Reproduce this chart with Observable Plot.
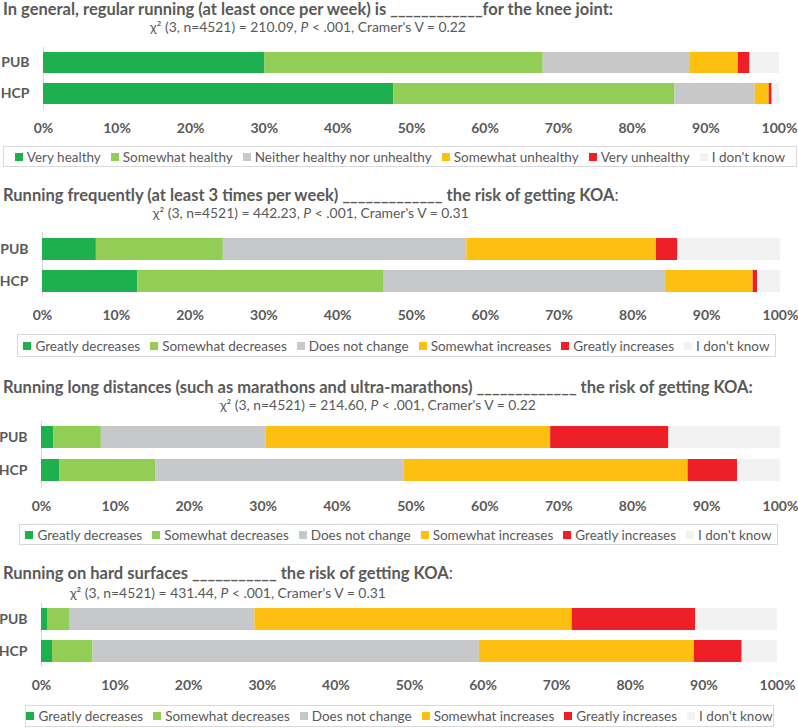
<!DOCTYPE html>
<html><head><meta charset="utf-8">
<script src="https://cdn.jsdelivr.net/npm/d3@7"></script>
<script src="https://cdn.jsdelivr.net/npm/@observablehq/plot@0.6"></script>
<style>
body{margin:0;background:#fff;font-family:Lato,sans-serif;color:#595959;width:798px;height:728px;overflow:hidden;position:relative}
.head{position:absolute;left:3px;display:inline-block}
.title{font-weight:bold;font-size:16.5px;line-height:18px;white-space:nowrap}
.title .lt{font-weight:normal}
.sub{text-align:center;font-size:13.9px;line-height:18px;white-space:nowrap}
.legend{position:absolute;box-sizing:border-box;border:1px solid #D9D9D9;display:flex;justify-content:center;align-items:center;font-size:13.5px;white-space:nowrap}
.item{display:inline-flex;align-items:center;margin:0 5px}
.sw{width:8px;height:8px;margin-right:4px;display:inline-block}
.plot{position:absolute;left:0}
</style></head><body>
<script>
// ---------- data ----------
const groups = ["PUB", "HCP"];
const healthCats = ["Very healthy", "Somewhat healthy", "Neither healthy nor unhealthy", "Somewhat unhealthy", "Very unhealthy", "I don't know"];
const riskCats = ["Greatly decreases", "Somewhat decreases", "Does not change", "Somewhat increases", "Greatly increases", "I don't know"];
const catColors = ["#1EB04E", "#92CD55", "#C7C8CA", "#FDC010", "#EE1F26", "#F2F2F2"];
const xTicks = [0, 10, 20, 30, 40, 50, 60, 70, 80, 90, 100];

const q1PUB = [30.1, 37.8, 20.0, 6.5, 1.6, 4.0];
const q1HCP = [47.6, 38.2, 10.9, 1.9, 0.4, 1.0];
const q2PUB = [7.3, 17.2, 33.0, 25.7, 2.9, 13.9];
const q2HCP = [12.9, 33.4, 38.1, 11.9, 0.6, 3.1];
const q3PUB = [1.7, 6.4, 22.3, 38.5, 16.0, 15.1];
const q3HCP = [2.5, 13.0, 33.6, 38.4, 6.7, 5.8];
const q4PUB = [0.9, 3.0, 25.1, 43.1, 16.8, 11.1];
const q4HCP = [1.5, 5.5, 52.5, 29.2, 6.5, 4.8];

const titleTexts = [
  "In general, regular running (at least once per week) is ____________for the knee joint",
  "Running frequently (at least 3 times per week) _____________ the risk of getting KOA",
  "Running long distances (such as marathons and ultra-marathons) _____________ the risk of getting KOA",
  "Running on hard surfaces ___________ the risk of getting KOA"
];
const chiValues = ["210.09", "442.23", "214.60", "431.44"];
const cramerV = ["0.22", "0.31", "0.22", "0.31"];

// ---------- layout ----------
const panels = [
  {cats: healthCats, vals: [q1PUB, q1HCP], colonLight: false, subGap: 0,
   titleTop: 0, frameTop: 47, frameBottom: 110, xLeft: 43, xRight: 779, legTop: 146, legBottom: 167, legLeft: 3, legRight: 797},
  {cats: riskCats, vals: [q2PUB, q2HCP], colonLight: true, subGap: 0,
   titleTop: 186, frameTop: 232, frameBottom: 297, xLeft: 42, xRight: 780, legTop: 334, legBottom: 357, legLeft: 17, legRight: 776},
  {cats: riskCats, vals: [q3PUB, q3HCP], colonLight: false, subGap: 0,
   titleTop: 378, frameTop: 420, frameBottom: 488, xLeft: 41, xRight: 780, legTop: 524, legBottom: 545, legLeft: 19, legRight: 778},
  {cats: riskCats, vals: [q4PUB, q4HCP], colonLight: true, subGap: 2,
   titleTop: 564, frameTop: 602, frameBottom: 667, xLeft: 41, xRight: 777, legTop: 705, legBottom: 727, legLeft: 25, legRight: 774}
];

panels.forEach((p, i) => {
  // heading
  const head = document.createElement("div");
  head.className = "head";
  head.style.top = p.titleTop + "px";
  const t = document.createElement("div");
  t.className = "title";
  t.innerHTML = titleTexts[i] + (p.colonLight ? '<span class="lt">:</span>' : ":");
  const s = document.createElement("div");
  s.className = "sub";
  s.style.marginTop = p.subGap + "px";
  s.innerHTML = `χ² (3, n=4521) = ${chiValues[i]}, <i>P</i> &lt; .001, Cramer's V = ${cramerV[i]}`;
  head.appendChild(t); head.appendChild(s);
  document.body.appendChild(head);

  // chart
  const rows = groups.flatMap((g, gi) => p.cats.map((c, ci) => ({group: g, cat: c, value: p.vals[gi][ci]})));
  const mt = 10, mb = 32;
  const chart = Plot.plot({
    width: 798,
    height: (p.frameBottom - p.frameTop) + mt + mb,
    marginTop: mt, marginBottom: mb,
    marginLeft: p.xLeft, marginRight: 798 - p.xRight,
    style: {fontFamily: "Lato, sans-serif", color: "#595959", background: "transparent", overflow: "visible"},
    x: {domain: [0, 100], label: null},
    y: {domain: groups, label: null, paddingInner: 0.32, paddingOuter: 0.17},
    color: {domain: p.cats, range: catColors},
    marks: [
      Plot.ruleX([0], {stroke: "#D9D9D9", strokeWidth: 1}),
      Plot.barX(rows, Plot.stackX({x: "value", y: "group", fill: "cat", inset: 0})),
      Plot.axisX(xTicks, {tickSize: 0, tickPadding: 13, tickFormat: d => d + "%", fontSize: 14, fontWeight: "bold", fill: "#595959"}),
      Plot.axisY({tickSize: 0, tickPadding: 14, fontSize: 14, fontWeight: "bold", fill: "#595959"})
    ]
  });
  chart.classList.add("plot");
  chart.style.top = (p.frameTop - mt) + "px";
  document.body.appendChild(chart);

  // legend
  const leg = document.createElement("div");
  leg.className = "legend";
  leg.style.top = p.legTop + "px";
  leg.style.height = (p.legBottom - p.legTop) + "px";
  leg.style.left = p.legLeft + "px";
  leg.style.width = (p.legRight - p.legLeft) + "px";
  p.cats.forEach((c, ci) => {
    const it = document.createElement("span");
    it.className = "item";
    it.innerHTML = `<span class="sw" style="background:${catColors[ci]}"></span>${c}`;
    leg.appendChild(it);
  });
  document.body.appendChild(leg);
});
</script>
</body></html>
